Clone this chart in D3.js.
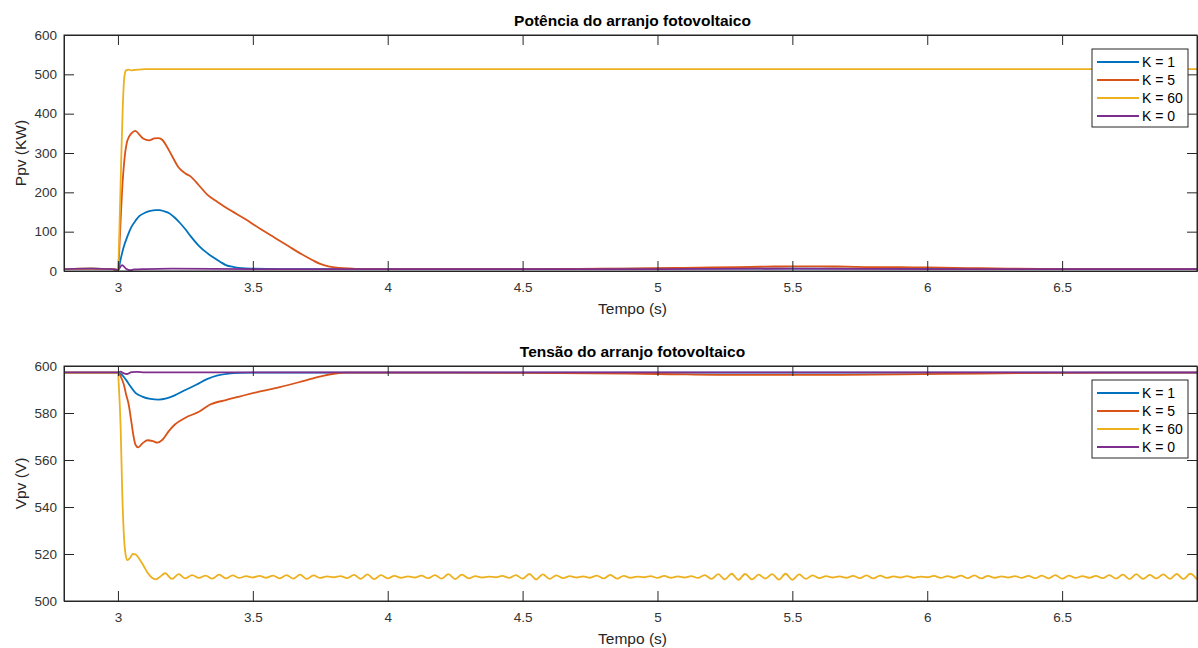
<!DOCTYPE html>
<html><head><meta charset="utf-8">
<script src="https://cdn.jsdelivr.net/npm/d3@7"></script>
<style>
html,body{margin:0;padding:0;background:#fff;}
svg{display:block;font-family:"Liberation Sans",Arial,Helvetica,sans-serif;}
</style></head>
<body><svg id="c" width="1198" height="648"></svg>
<script>
// ---------- DATA ----------
const seriesNames = ["K = 1", "K = 5", "K = 60", "K = 0"];
const seriesColors = ["#0072BD", "#D95319", "#EDB120", "#7E2F8E"];
const xTicks = [3, 3.5, 4, 4.5, 5, 5.5, 6, 6.5];
const xTickLabels = ["3", "3.5", "4", "4.5", "5", "5.5", "6", "6.5"];
const pTicks = [0, 100, 200, 300, 400, 500, 600];
const vTicks = [500, 520, 540, 560, 580, 600];

// Top plot: power (kW)
const pK1_t = [2.8, 2.9, 2.98, 3.0, 3.01, 3.02, 3.035, 3.05, 3.065, 3.08, 3.1, 3.12, 3.14, 3.155, 3.17, 3.19, 3.21, 3.23, 3.25, 3.27, 3.3, 3.33, 3.35, 3.38, 3.4, 3.43, 3.46, 3.5, 3.6, 3.8, 4.0, 4.5, 5.0, 5.5, 6.0, 6.5, 7.0];
const pK1_v = [5, 6, 5, 0, 30, 58, 88, 112, 128, 140, 148, 153, 155, 155, 152, 147, 136, 122, 106, 88, 64, 46, 36, 23, 15, 10, 7, 6, 5, 5, 5, 5, 6, 6, 6, 5, 5];

const pK5_t = [2.8, 2.9, 2.98, 3.0, 3.008, 3.015, 3.025, 3.035, 3.05, 3.065, 3.08, 3.095, 3.115, 3.135, 3.15, 3.165, 3.18, 3.2, 3.225, 3.25, 3.27, 3.3, 3.33, 3.37, 3.42, 3.47, 3.53, 3.58, 3.63, 3.68, 3.72, 3.75, 3.78, 3.82, 3.87, 3.9,
  4.0, 4.2, 4.4, 4.6, 4.8, 5.0, 5.1, 5.2, 5.3, 5.4, 5.5, 5.6, 5.7, 5.8, 5.9, 6.0, 6.1, 6.2, 6.3, 6.5, 6.8, 7.0];
const pK5_v = [5, 6, 5, 1, 100, 200, 290, 332, 350, 356, 346, 336, 332, 337, 338, 333, 318, 293, 263, 248, 240, 218, 195, 175, 153, 133, 106, 85, 64, 43, 28, 18, 12, 8, 6, 5,
  5, 5, 5, 5, 6, 7, 8, 9, 10, 11, 12, 12, 11, 10, 10, 9, 8, 7, 6, 5, 5, 5];

const pK60_t = [2.8, 2.9, 2.98, 3.0, 3.006, 3.012, 3.018, 3.024, 3.03, 3.04, 3.05, 3.06, 3.08, 3.1, 3.15, 3.2, 3.3, 4.0, 5.0, 6.0, 7.0];
const pK60_v = [5, 6, 5, 3, 120, 280, 420, 495, 510, 512, 510, 511, 512, 513, 513, 513, 513, 513, 513, 513, 513];

const pK0_t = [2.8, 2.9, 2.98, 3.0, 3.015, 3.03, 3.045, 3.06, 3.1, 3.2, 3.5, 4.0, 4.5, 5.0, 5.5, 6.0, 6.5, 7.0];
const pK0_v = [5, 6, 5, 3, 15, 6, 2, 4, 5, 6, 5, 5, 5, 5, 6, 5, 5, 5];

// Bottom plot: voltage (V)
const vK1_t = [2.8, 3.0, 3.01, 3.02, 3.03, 3.045, 3.065, 3.09, 3.12, 3.15, 3.18, 3.21, 3.25, 3.29, 3.33, 3.37, 3.41, 3.45, 3.5, 5.0, 6.0, 7.0];
const vK1_v = [597.2, 597.2, 596.7, 595.6, 594.1, 591.6, 588.6, 587.0, 586.0, 585.7, 586.2, 587.5, 589.8, 592.0, 594.4, 596.0, 596.8, 597.1, 597.2, 597.2, 597.2, 597.2];

const vK5_t = [2.8, 3.0, 3.01, 3.022, 3.03, 3.04, 3.05, 3.058, 3.065, 3.075, 3.09, 3.109, 3.13, 3.146, 3.165, 3.19, 3.21, 3.25, 3.3, 3.34, 3.4, 3.45, 3.52, 3.6, 3.7, 3.76, 3.8, 3.85, 4.5, 5.0, 5.3, 5.6, 5.9, 6.2, 6.5, 7.0];
const vK5_v = [597.2, 597.2, 595.6, 592.0, 588.0, 583.5, 576.0, 570.0, 566.5, 565.4, 567.0, 568.4, 568.0, 567.4, 568.6, 572.5, 575.0, 578.0, 580.5, 583.5, 585.5, 587.0, 589.0, 591.0, 594.0, 595.8, 596.7, 597.2, 597.1, 596.6, 596.2, 596.2, 596.4, 596.8, 597.1, 597.2];

const vK60_t = [2.8, 3.0, 3.004, 3.01, 3.016, 3.022, 3.028, 3.035, 3.045, 3.055, 3.065, 3.08, 3.095, 3.11, 3.125, 3.14, 3.155];
const vK60_v = [597.2, 597.2, 590.0, 573.6, 545.7, 528.0, 520.0, 517.4, 518.4, 520.0, 519.8, 517.8, 515.0, 512.0, 510.0, 509.2, 510.2];
// oscillating tail, sampled every 0.025 s from 3.175 s
const vK60_tailStart = 3.175;
const vK60_tailStep = 0.025;
const vK60_tail = [
  511.8, 509.4, 511.4, 509.6, 511.0, 509.8, 510.8, 509.5, 511.2, 509.6,
  510.9, 509.8, 510.6, 510.0, 510.7, 509.9, 510.8, 509.6, 511.0, 509.5,
  511.2, 509.4, 510.9, 509.8, 510.5, 510.1, 510.6, 509.7, 511.1, 509.4,
  511.3, 509.3, 511.0, 509.6, 510.7, 509.9, 510.5, 510.0, 510.8, 509.7,
  511.0, 509.5, 511.4, 509.3, 511.2, 509.6, 510.6, 510.0, 510.4, 510.1,
  510.7, 509.8, 511.0, 509.5, 511.5, 509.2, 511.3, 509.4, 510.9, 509.7,
  510.6, 510.0, 510.5, 509.9, 510.8, 509.6, 511.1, 509.5, 510.7, 509.9,
  510.4, 510.1, 510.6, 509.8, 510.7, 509.9, 510.5, 510.0, 510.6, 509.8,
  511.0, 509.4, 511.4, 509.2, 511.6, 509.0, 511.5, 509.2, 511.2, 509.5,
  511.4, 509.1, 511.6, 509.0, 511.3, 509.4, 510.9, 509.7, 510.6, 510.0,
  510.5, 509.9, 510.7, 509.7, 510.9, 509.6, 510.8, 509.8, 510.5, 510.0,
  510.6, 509.9, 510.4, 510.1, 510.7, 509.8, 510.6, 509.9, 510.8, 509.7,
  510.9, 509.6, 510.7, 509.9, 510.5, 510.0, 510.6, 509.8, 510.7, 509.7,
  510.8, 509.6, 511.0, 509.5, 510.8, 509.8, 510.6, 509.9, 510.7, 509.7,
  511.0, 509.5, 511.2, 509.3, 511.4, 509.4, 511.1, 509.6, 511.3, 509.4,
  511.5, 509.3, 511.6, 509.2
];

const vK0_t = [2.8, 3.0, 3.01, 3.02, 3.035, 3.05, 3.07, 3.1, 3.5, 4.0, 5.0, 6.0, 7.0];
const vK0_v = [597.3, 597.3, 597.6, 597.0, 596.6, 597.4, 597.5, 597.3, 597.3, 597.3, 597.3, 597.3, 597.3];

// ---------- BUILD ----------
const zip = (t, v) => t.map((x, i) => ({t: x, v: v[i]}));
const vK60_full = zip(vK60_t, vK60_v).concat(vK60_tail.map((v, i) => ({t: vK60_tailStart + i * vK60_tailStep, v: v})));

const topSeries = [zip(pK1_t, pK1_v), zip(pK5_t, pK5_v), zip(pK60_t, pK60_v), zip(pK0_t, pK0_v)];
const botSeries = [zip(vK1_t, vK1_v), zip(vK5_t, vK5_v), vK60_full, zip(vK0_t, vK0_v)];

const svg = d3.select("#c");
const axisColor = "#262626";
const X0 = 64, X1 = 1197;

function panel(opts) {
  const {top, bottom, yDomain, yTicks, title, ylabel, series, id} = opts;
  const x = d3.scaleLinear().domain([2.8, 7.0]).range([X0, X1]);
  const y = d3.scaleLinear().domain(yDomain).range([bottom, top]);
  const g = svg.append("g");

  g.append("clipPath").attr("id", id).append("rect")
    .attr("x", X0).attr("y", top).attr("width", X1 - X0).attr("height", bottom - top);

  const line = d3.line().x(d => x(d.t)).y(d => y(d.v)).curve(d3.curveMonotoneX);
  const lg = g.append("g").attr("clip-path", `url(#${id})`);
  series.forEach((s, i) => {
    lg.append("path").datum(s).attr("d", line)
      .attr("fill", "none").attr("stroke", seriesColors[i])
      .attr("stroke-width", 1.8).attr("stroke-linejoin", "round");
  });

  const tl = 10;
  const xb = g.append("g").attr("transform", `translate(0,${bottom})`)
    .call(d3.axisBottom(x).tickValues(xTicks).tickFormat((d, i) => xTickLabels[i]).tickSizeInner(-tl).tickSizeOuter(0).tickPadding(11));
  const xt = g.append("g").attr("transform", `translate(0,${top})`)
    .call(d3.axisTop(x).tickValues(xTicks).tickFormat("").tickSizeInner(-tl).tickSizeOuter(0));
  const yl = g.append("g").attr("transform", `translate(${X0},0)`)
    .call(d3.axisLeft(y).tickValues(yTicks).tickFormat(d3.format("d")).tickSizeInner(-tl).tickSizeOuter(0).tickPadding(7));
  const yr = g.append("g").attr("transform", `translate(${X1},0)`)
    .call(d3.axisRight(y).tickValues(yTicks).tickFormat("").tickSizeInner(-tl).tickSizeOuter(0));
  [xb, xt, yl, yr].forEach(a => {
    a.selectAll(".domain").attr("stroke", axisColor).attr("stroke-width", 1);
    a.selectAll(".tick line").attr("stroke", axisColor).attr("stroke-width", 1);
    a.selectAll("text").attr("fill", "#333").style("font-size", "13.5px")
      .style("font-family", "'Liberation Sans', Arial, sans-serif");
  });
  g.append("rect").attr("x", X0).attr("y", top).attr("width", X1 - X0).attr("height", bottom - top)
    .attr("fill", "none").attr("stroke", axisColor).attr("stroke-width", 1);

  g.append("text").attr("x", (X0 + X1) / 2 + 2).attr("y", top - 9)
    .attr("text-anchor", "middle").attr("font-weight", "bold").attr("font-size", "15.5px")
    .attr("fill", "#000").text(title);
  g.append("text").attr("x", (X0 + X1) / 2 + 2).attr("y", bottom + 43)
    .attr("text-anchor", "middle").attr("font-size", "15.5px").attr("fill", "#262626").text("Tempo (s)");
  g.append("text").attr("transform", `translate(26,${(top + bottom) / 2}) rotate(-90)`)
    .attr("text-anchor", "middle").attr("font-size", "15.5px").attr("fill", "#262626").text(ylabel);

  const lx = 1092, ly = top + 14, lw = 96, rowH = 18;
  const leg = g.append("g");
  leg.append("rect").attr("x", lx).attr("y", ly).attr("width", lw).attr("height", rowH * 4 + 6)
    .attr("fill", "#fff").attr("stroke", axisColor).attr("stroke-width", 1);
  seriesNames.forEach((n, i) => {
    const yy = ly + 13 + i * rowH;
    leg.append("line").attr("x1", lx + 5).attr("x2", lx + 47).attr("y1", yy).attr("y2", yy)
      .attr("stroke", seriesColors[i]).attr("stroke-width", 2);
    leg.append("text").attr("x", lx + 50).attr("y", yy).attr("dy", "0.36em")
      .attr("font-size", "14px").attr("fill", "#000").text(n);
  });
}

panel({id: "clipTop", top: 35, bottom: 271, yDomain: [0, 600], yTicks: pTicks,
  title: "Potência do arranjo fotovoltaico", ylabel: "Ppv (KW)", series: topSeries});
panel({id: "clipBot", top: 366, bottom: 601, yDomain: [500, 600], yTicks: vTicks,
  title: "Tensão do arranjo fotovoltaico", ylabel: "Vpv (V)", series: botSeries});
</script>
</body></html>
